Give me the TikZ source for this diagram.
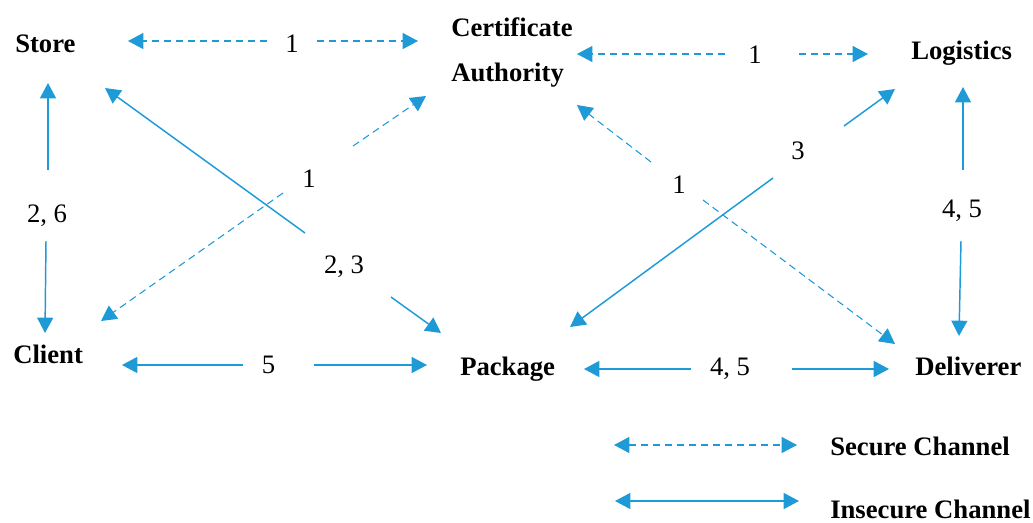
\documentclass[tikz,border=0pt]{standalone}
\usepackage{fontspec}
\setmainfont{Liberation Serif}
\usetikzlibrary{arrows.meta}
\definecolor{cblue}{RGB}{30,155,215}
\begin{document}
\begin{tikzpicture}[x=0.75pt,y=-0.75pt,
  ent/.style={font=\fontsize{20}{33.75}\selectfont\bfseries, inner sep=0pt, anchor=base west, align=left},
  num/.style={font=\fontsize{20}{24}\selectfont, inner sep=0pt, anchor=base},
  tip/.style={-{Triangle[length=11.5pt,width=12pt]}},
  ins/.style={draw=cblue, line width=1.1pt, tip},
  sec/.style={draw=cblue, line width=0.8pt, dash pattern=on 5.5pt off 3.5pt, tip},
  legsec/.style={draw=cblue, line width=0.8pt, dash pattern=on 5.5pt off 3.5pt, {Triangle[length=11.5pt,width=12pt]}-{Triangle[length=11.5pt,width=12pt]}},
  legins/.style={draw=cblue, line width=1.1pt, {Triangle[length=11.5pt,width=12pt]}-{Triangle[length=11.5pt,width=12pt]}},
]
\useasboundingbox (0,0) rectangle (1033,522);

% entities
\node[ent] (store) at (15,52) {Store};
\node[ent] (ca) at (451,81) {Certificate\\Authority};
\node[ent] (log) at (911,59) {Logistics};
\node[ent] (client) at (13,363) {Client};
\node[ent] (pkg) at (460,375) {Package};
\node[ent] (deliv) at (915,375) {Deliverer};
\node[ent] (secl) at (830,455) {Secure Channel};
\node[ent] (insl) at (830,518) {Insecure Channel};

% labels
\node[num] (l1) at (292,52) {1};
\node[num] (l2) at (755,63) {1};
\node[num] (l3) at (309,187) {1};
\node[num] (l4) at (47,222) {2, 6};
\node[num] (l5) at (344,273) {2, 3};
\node[num] (l6) at (268.5,373) {5};
\node[num] (l7) at (798,159) {3};
\node[num] (l8) at (679,193) {1};
\node[num] (l9) at (962,217) {4, 5};
\node[num] (l10) at (730,375) {4, 5};

% connector end points
\coordinate (sc1) at (128,41);  \coordinate (sc2) at (267,41);
\coordinate (sc3) at (317,41);  \coordinate (sc4) at (418,41);
\coordinate (cl1) at (577,54);  \coordinate (cl2) at (725,54);
\coordinate (cl3) at (799,54);  \coordinate (cl4) at (868,54);
\coordinate (st1) at (48,83);   \coordinate (st2) at (48,170);
\coordinate (st3) at (46,241);  \coordinate (st4) at (45,333);
\coordinate (cc1) at (101,321); \coordinate (cc2) at (283,193);
\coordinate (cc3) at (353,146); \coordinate (cc4) at (426,96);
\coordinate (sp1) at (105,88);  \coordinate (sp2) at (305,233);
\coordinate (sp3) at (391,297); \coordinate (sp4) at (441,333);
\coordinate (cp1) at (122,365); \coordinate (cp2) at (243,365);
\coordinate (cp3) at (314,365); \coordinate (cp4) at (427,365);
\coordinate (pd1) at (584,369); \coordinate (pd2) at (691,369);
\coordinate (pd3) at (792,369); \coordinate (pd4) at (889,369);
\coordinate (pl1) at (570,327); \coordinate (pl2) at (773,178);
\coordinate (pl3) at (844,126); \coordinate (pl4) at (895,89);
\coordinate (cd1) at (577,105); \coordinate (cd2) at (651,162);
\coordinate (cd3) at (703,200); \coordinate (cd4) at (895,344);
\coordinate (ld1) at (963,87);  \coordinate (ld2) at (963,170);
\coordinate (ld3) at (961,241); \coordinate (ld4) at (959,336);
\coordinate (ls1) at (614,445); \coordinate (ls2) at (797,445);
\coordinate (li1) at (615,501); \coordinate (li2) at (799,501);

% connectors
\draw[sec] (sc2) -- (sc1);  \draw[sec] (sc3) -- (sc4);
\draw[sec] (cl2) -- (cl1);  \draw[sec] (cl3) -- (cl4);
\draw[ins] (st2) -- (st1);  \draw[ins] (st3) -- (st4);
\draw[sec] (cc2) -- (cc1);  \draw[sec] (cc3) -- (cc4);
\draw[ins] (sp2) -- (sp1);  \draw[ins] (sp3) -- (sp4);
\draw[ins] (cp2) -- (cp1);  \draw[ins] (cp3) -- (cp4);
\draw[ins] (pd2) -- (pd1);  \draw[ins] (pd3) -- (pd4);
\draw[ins] (pl2) -- (pl1);  \draw[ins] (pl3) -- (pl4);
\draw[sec] (cd2) -- (cd1);  \draw[sec] (cd3) -- (cd4);
\draw[ins] (ld2) -- (ld1);  \draw[ins] (ld3) -- (ld4);
\draw[legsec] (ls1) -- (ls2);
\draw[legins] (li1) -- (li2);
\end{tikzpicture}
\end{document}
